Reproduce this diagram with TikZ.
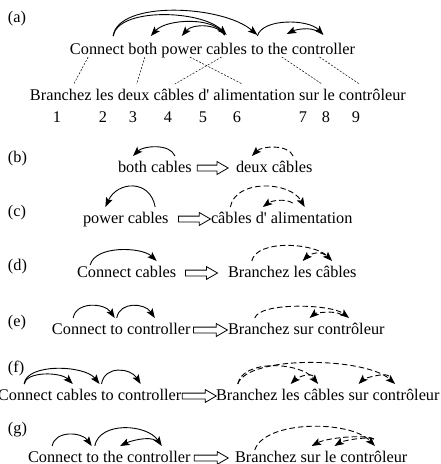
\documentclass[tikz,border=0pt]{standalone}
\usepackage{fontspec}
\setmainfont{Liberation Serif}
\usetikzlibrary{arrows.meta, positioning, shapes.arrows}

\tikzset{
  word/.style={inner xsep=0pt, inner ysep=5pt, outer sep=0pt, text height=11pt, text depth=3pt, font=\fontsize{16.3}{19}\selectfont},
  tag/.style={word, anchor=base west},
  link/.style={-{Stealth[length=9.5pt, width=7pt, inset=2pt]}, line width=0.9pt},
  dlink/.style={link, dash pattern=on 5.5pt off 3pt},
  pair/.style={line width=0.5pt, dash pattern=on 2pt off 1.5pt},
  trans/.style={single arrow, draw, line width=0.8pt, minimum height=32pt, inner xsep=0pt, inner ysep=2.5pt, text height=0pt, text depth=0pt, single arrow head extend=3.5pt, single arrow tip angle=60},
}

\begin{document}
\begin{tikzpicture}[x=1pt, y=-1pt, node distance=4.07pt]
\useasboundingbox (0,0) rectangle (440,464);

% (a) full sentence pair
\node[tag] (la) at (8,22) {(a)};
\node[tag] (ca1) at (70,54) {Connect};
\node[word, base right=of ca1] (ca2) {both};
\node[word, base right=of ca2] (ca3) {power};
\node[word, base right=of ca3] (ca4) {cables};
\node[word, base right=of ca4] (ca5) {to};
\node[word, base right=of ca5] (ca6) {the};
\node[word, base right=of ca6] (ca7) {controller};

\node[tag] (fa1) at (30,100) {Branchez};
\node[word, base right=of fa1] (fa2) {les};
\node[word, base right=of fa2] (fa3) {deux};
\node[word, base right=of fa3] (fa4) {câbles};
\node[word, base right=of fa4] (fa5) {d\textquotesingle};
\node[word, base right=of fa5] (fa6) {alimentation};
\node[word, base right=of fa6] (fa7) {sur};
\node[word, base right=of fa7] (fa8) {le};
\node[word, base right=of fa8] (fa9) {contrôleur};

\foreach \n/\x in {1/57, 2/103, 3/133, 4/168, 5/203, 6/237, 7/303, 8/326, 9/356}
  \node[word, anchor=base] (num\n) at (\x,122) {\n};

\draw[link] ([xshift=16pt,yshift=2pt]ca1.north) .. controls +(5,-36) and +(-35,-30) .. ([yshift=3pt]ca5.north);
\draw[link] ([xshift=16pt,yshift=2pt]ca1.north) .. controls +(5,-29) and +(-25,-25) .. ([yshift=3pt]ca4.north);
\draw[link] ([xshift=-2pt,yshift=3pt]ca4.north) .. controls +(-10,-19) and +(15,-17) .. ([xshift=8pt,yshift=2pt]ca2.north);
\draw[link] ([xshift=-2pt,yshift=3pt]ca4.north) .. controls +(-8,-12) and +(10,-12) .. ([yshift=2pt]ca3.north);
\draw[link] ([yshift=2pt]ca5.north) .. controls +(5,-18) and +(-15,-16) .. ([yshift=3pt]ca7.north);
\draw[link] ([xshift=-5pt,yshift=6pt]ca7.north) .. controls +(-8,-6) and +(8,-4) .. ([xshift=9pt,yshift=4pt]ca6.north);

\draw[pair] ([xshift=-9pt,yshift=5pt]ca1.south) -- ([xshift=13pt]fa1.north);
\draw[pair] ([xshift=2pt,yshift=5pt]ca2.south) -- ([xshift=3pt]fa3.north);
\draw[pair] ([xshift=8pt,yshift=5pt]ca3.south) -- ([xshift=-12pt]fa6.north);
\draw[pair] ([xshift=-5pt,yshift=5pt]ca4.south) -- ([xshift=1pt]fa4.north);
\draw[pair] ([xshift=4pt,yshift=5pt]ca6.south) -- ([xshift=-7pt]fa8.north);
\draw[pair] ([xshift=-4pt,yshift=5pt]ca7.south) -- ([xshift=-13pt]fa9.north);

% (b)
\node[tag] (lb) at (8,162) {(b)};
\node[tag] (cb1) at (118,172) {both};
\node[word, base right=of cb1] (cb2) {cables};
\node[trans, minimum height=31pt, right=5pt of cb2] (tb) {};
\node[tag] (fb1) at (236,172) {deux};
\node[word, base right=of fb1] (fb2) {câbles};
\draw[link] ([xshift=3.5pt]cb2.north) .. controls +(-5,-13) and +(10,-10) .. ([xshift=0.5pt]cb1.north);
\draw[dlink] ([xshift=1pt]fb2.north) .. controls +(-5,-12) and +(10,-10) .. (fb1.north);

% (c)
\node[tag] (lc) at (8,216) {(c)};
\node[tag] (cc1) at (83,223) {power};
\node[word, base right=of cc1] (cc2) {cables};
\node[trans, right=9.5pt of cc2] (tc) {};
\node[tag] (fc1) at (211,223) {câbles};
\node[word, base right=of fc1] (fc2) {d\textquotesingle};
\node[word, base right=of fc2] (fc3) {alimentation};
\draw[link] ([xshift=7pt]cc2.north) .. controls +(-5,-28) and +(12,-26) .. ([xshift=2pt]cc1.north);
\draw[dlink] ([xshift=-1pt]fc1.north) .. controls +(5,-28) and +(-15,-26) .. ([xshift=-7pt]fc3.north);
\draw[dlink] ([xshift=-19pt,yshift=4pt]fc3.north) .. controls +(-8,-5) and +(8,-6) .. ([xshift=1.5pt]fc2.north);

% (d)
\node[tag] (ld) at (8,270) {(d)};
\node[tag] (cd1) at (77,277) {Connect};
\node[word, base right=of cd1] (cd2) {cables};
\node[trans, right=9pt of cd2] (td) {};
\node[tag] (fd1) at (228,277) {Branchez};
\node[word, base right=of fd1] (fd2) {les};
\node[word, base right=of fd2] (fd3) {câbles};
\draw[link] ([xshift=-14pt,yshift=-4pt]cd1.north) .. controls +(5,-20) and +(-15,-14) .. ([xshift=1pt]cd2.north);
\draw[dlink] ([xshift=-7pt]fd1.north) .. controls +(5,-22) and +(-18,-18) .. ([xshift=-4pt]fd3.north);
\draw[dlink] ([xshift=-11pt,yshift=6pt]fd3.north) .. controls +(-6,-5) and +(6,-6) .. (fd2.north);

% (e)
\node[tag] (le) at (8,326) {(e)};
\node[tag] (ce1) at (52,334) {Connect};
\node[word, base right=of ce1] (ce2) {to};
\node[word, base right=of ce2] (ce3) {controller};
\node[trans, minimum height=34pt, right=2.5pt of ce3] (te) {};
\node[tag] (fe1) at (228,334) {Branchez};
\node[word, base right=of fe1] (fe2) {sur};
\node[word, base right=of fe2] (fe3) {contrôleur};
\draw[link] ([xshift=-6pt]ce1.north) .. controls +(3,-17) and +(-10,-15) .. ([xshift=-2pt]ce2.north);
\draw[link] (ce2.north) .. controls +(3,-17) and +(-10,-15) .. ([xshift=-4pt]ce3.north);
\draw[dlink] ([xshift=-4pt]fe1.north) .. controls +(5,-16) and +(-18,-14) .. ([xshift=-2pt]fe3.north);
\draw[dlink] ([xshift=-9pt,yshift=3pt]fe3.north) .. controls +(-6,-5) and +(6,-5) .. ([xshift=6pt]fe2.north);

% (f)
\node[tag] (lf) at (8,372) {(f)};
\node[tag] (cf1) at (-2,400) {Connect};
\node[word, base right=of cf1] (cf2) {cables};
\node[word, base right=of cf2] (cf3) {to};
\node[word, base right=of cf3] (cf4) {controller};
\node[trans, minimum height=34pt, right=0.6pt of cf4] (tf) {};
\node[tag] (ff1) at (216,400) {Branchez};
\node[word, base right=of ff1] (ff2) {les};
\node[word, base right=of ff2] (ff3) {câbles};
\node[word, base right=of ff3] (ff4) {sur};
\node[word, base right=of ff4] (ff5) {contrôleur};
\draw[link] ([xshift=-1pt]cf1.north) .. controls +(2,-13) and +(-12,-12) .. ([xshift=-4pt]cf2.north);
\draw[link] ([xshift=-1pt]cf1.north) .. controls +(2,-21) and +(-15,-19) .. ([xshift=-8pt]cf3.north);
\draw[link] ([xshift=-6pt]cf3.north) .. controls +(3,-19) and +(-10,-16) .. ([xshift=-9pt]cf4.north);
\draw[dlink] ([xshift=-9pt]ff1.north) .. controls +(5,-25) and +(-18,-22) .. ([xshift=-6pt]ff3.north);
\draw[dlink] ([xshift=-9pt]ff1.north) .. controls +(10,-29) and +(-30,-27) .. ([xshift=-11pt]ff5.north);
\draw[dlink] ([xshift=-11pt,yshift=8pt]ff3.north) .. controls +(-5,-4) and +(5,-5) .. (ff2.north);
\draw[dlink] ([xshift=-17pt,yshift=8pt]ff5.north) .. controls +(-5,-4) and +(5,-5) .. (ff4.north);

% (g)
\node[tag] (lg) at (8,433) {(g)};
\node[tag] (cg1) at (28,462) {Connect};
\node[word, base right=of cg1] (cg2) {to};
\node[word, base right=of cg2] (cg3) {the};
\node[word, base right=of cg3] (cg4) {controller};
\node[trans, minimum height=34pt, right=3.4pt of cg4] (tg) {};
\node[tag] (fg1) at (235,462) {Branchez};
\node[word, base right=of fg1] (fg2) {sur};
\node[word, base right=of fg2] (fg3) {le};
\node[word, base right=of fg3] (fg4) {contrôleur};
\draw[link] ([xshift=-3pt]cg1.north) .. controls +(3,-16) and +(-10,-14) .. ([xshift=-1pt]cg2.north);
\draw[link] ([xshift=2pt]cg2.north) .. controls +(5,-25) and +(-15,-22) .. ([xshift=3pt]cg4.north);
\draw[link] ([xshift=-2pt,yshift=5pt]cg4.north) .. controls +(-8,-6) and +(8,-4) .. ([xshift=7pt]cg3.north);
\draw[dlink] ([xshift=-11pt,yshift=-4pt]fg1.north) .. controls +(10,-30) and +(-25,-26) .. ([xshift=1pt]fg4.north);
\draw[dlink] ([yshift=7pt]fg4.north) .. controls +(-10,-5) and +(15,-8) .. ([xshift=1pt]fg2.north);
\draw[dlink] ([yshift=7pt]fg4.north) .. controls +(-8,-3) and +(8,-5) .. ([xshift=4pt]fg3.north);
\end{tikzpicture}
\end{document}
